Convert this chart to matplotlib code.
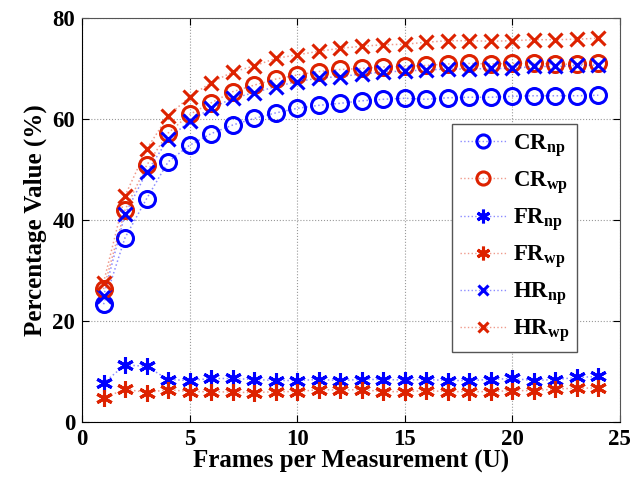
import matplotlib.pyplot as plt
import matplotlib.colors as mcolors
import numpy as np

plt.rcParams['font.family'] = 'Liberation Serif'
plt.rcParams['font.weight'] = 'bold'
plt.rcParams['mathtext.fontset'] = 'custom'
plt.rcParams['mathtext.rm'] = 'Liberation Serif:bold'
plt.rcParams['mathtext.bf'] = 'Liberation Serif:bold'
plt.rcParams['mathtext.default'] = 'bf'

# frames per measurement
frames = np.arange(1, 25)

cr_np = [23.3, 36.5, 44.2, 51.5, 54.8, 57.1, 58.8, 60.1, 61.2, 62.1, 62.7, 63.1,
         63.6, 63.9, 64.1, 63.9, 64.2, 64.3, 64.3, 64.5, 64.6, 64.6, 64.6, 64.7]
cr_wp = [26.3, 42.0, 50.8, 57.2, 60.9, 63.2, 65.4, 66.7, 67.9, 68.7, 69.4, 69.8,
         70.0, 70.3, 70.4, 70.6, 70.9, 71.0, 70.9, 71.0, 71.0, 70.9, 70.8, 71.1]
fr_np = [7.7, 11.3, 11.0, 8.4, 8.2, 8.6, 8.6, 8.4, 8.2, 8.2, 8.4, 8.2,
         8.4, 8.4, 8.3, 8.4, 8.2, 8.2, 8.4, 8.6, 8.2, 8.4, 8.8, 9.0]
fr_wp = [4.7, 6.5, 5.8, 6.4, 6.0, 6.0, 5.9, 5.8, 6.0, 6.0, 6.4, 6.3,
         6.4, 6.0, 6.0, 6.2, 6.0, 6.0, 6.0, 6.2, 6.2, 6.5, 6.7, 6.7]
hr_np = [24.9, 41.2, 49.4, 56.0, 59.6, 62.1, 64.1, 65.2, 66.4, 67.4, 68.1, 68.4,
         68.9, 69.3, 69.5, 69.7, 69.9, 69.9, 70.0, 70.0, 70.4, 70.4, 70.6, 70.7]
hr_wp = [27.6, 44.8, 54.0, 60.6, 64.4, 67.2, 69.3, 70.5, 72.0, 72.7, 73.4, 74.0,
         74.4, 74.7, 74.8, 75.2, 75.5, 75.5, 75.4, 75.5, 75.7, 75.7, 75.8, 76.0]

blue = '#0000ff'
red = '#dd2200'

series = [
    (cr_np, 'CR$_{np}$', blue, 'o', 11.5),
    (cr_wp, 'CR$_{wp}$', red, 'o', 11.5),
    (fr_np, 'FR$_{np}$', blue, (6, 2, 0), 12),
    (fr_wp, 'FR$_{wp}$', red, (6, 2, 0), 12),
    (hr_np, 'HR$_{np}$', blue, 'x', 9.5),
    (hr_wp, 'HR$_{wp}$', red, 'x', 9.5),
]

fig = plt.figure(figsize=(6.41, 4.8), dpi=100)
ax = fig.add_axes([0.128, 0.121, 0.839, 0.8415])

for vals, label, col, mk, ms in series:
    # faint dotted connecting line, solid markers
    ax.plot(frames, vals, linestyle=':', color=mcolors.to_rgba(col, 0.45), lw=1.1,
            marker=mk, markersize=ms, markerfacecolor='none',
            markeredgecolor=col, markeredgewidth=2.2, label=label)

ax.set_xlim(0, 25)
ax.set_ylim(0, 80)
ax.set_xticks([0, 5, 10, 15, 20, 25])
ax.set_yticks([0, 20, 40, 60, 80])
ax.tick_params(direction='in', length=5, top=True, right=True, labelsize=16.5,
               pad=5)
ax.grid(True, linestyle=':', color='#999999', lw=0.8)
for s in ax.spines.values():
    s.set_color('#555555')
ax.spines['left'].set_color('black')
ax.spines['bottom'].set_color('black')

ax.set_xlabel('Frames per Measurement (U)', fontsize=18, fontweight='bold',
              labelpad=0)
ax.set_ylabel('Percentage Value (%)', fontsize=18, fontweight='bold',
              labelpad=4)

leg = ax.legend(loc='upper left', bbox_to_anchor=(0.688, 0.738), fontsize=16.5,
                fancybox=False, edgecolor='#555555', framealpha=1,
                handlelength=2.0, labelspacing=0.45, borderpad=0.35,
                handletextpad=0.3, borderaxespad=0, markerscale=0.82)
leg.get_frame().set_linewidth(1.0)
for h in leg.get_lines():
    h.set_linewidth(1.0)

fig.savefig('out.png', dpi=100)
